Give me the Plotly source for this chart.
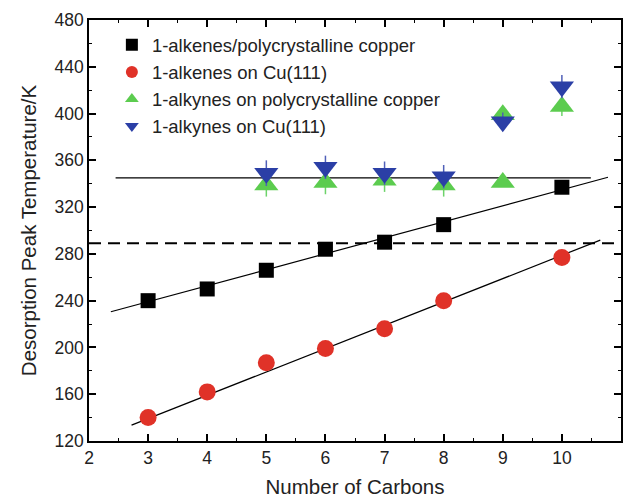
import plotly.graph_objects as go

# Data
carbons_alkenes = [3, 4, 5, 6, 7, 8, 10]
alkenes_poly = [240, 250, 266, 284, 290, 305, 337]
alkenes_cu111 = [140, 162, 187, 199, 216, 240, 277]

carbons_alkynes_poly = [5, 6, 7, 8, 9, 9, 10]
alkynes_poly = [339, 341, 343, 339, 341, 399, 406]
alkynes_poly_err = [10, 10, 10, 10, 0, 6, 8]

carbons_alkynes_cu = [5, 6, 7, 8, 9, 10]
alkynes_cu111 = [349, 354, 349, 346, 393, 423]
alkynes_cu_err = [11, 10, 10, 10, 8, 10]

fit_poly_x = [2.37, 10.78]
fit_poly_y = [230.5, 345.5]
fit_cu_x = [2.72, 10.65]
fit_cu_y = [133.6, 291.8]
flat_x = [2.45, 10.49]
flat_y = [345, 345]
dash_x = [2, 11]
dash_y = [289, 289]

FONT = "Liberation Sans, Arial, Helvetica, sans-serif"

fig = go.Figure()

fig.add_trace(go.Scatter(x=fit_poly_x, y=fit_poly_y, mode="lines",
                         line=dict(color="black", width=1.2), showlegend=False))
fig.add_trace(go.Scatter(x=fit_cu_x, y=fit_cu_y, mode="lines",
                         line=dict(color="black", width=1.2), showlegend=False))
fig.add_trace(go.Scatter(x=flat_x, y=flat_y, mode="lines",
                         line=dict(color="black", width=1.2), showlegend=False))
fig.add_trace(go.Scatter(x=dash_x, y=dash_y, mode="lines",
                         line=dict(color="black", width=2, dash="12px,7px"), showlegend=False))

fig.add_trace(go.Scatter(x=carbons_alkenes, y=alkenes_poly, mode="markers",
                         name="1-alkenes/polycrystalline copper",
                         marker=dict(symbol="square", size=15, color="black")))
fig.add_trace(go.Scatter(x=carbons_alkenes, y=alkenes_cu111, mode="markers",
                         name="1-alkenes on Cu(111)",
                         marker=dict(symbol="circle", size=17, color="#e03228")))
fig.add_trace(go.Scatter(x=carbons_alkynes_poly, y=alkynes_poly, mode="markers",
                         name="1-alkynes on polycrystalline copper",
                         error_y=dict(type="data", array=alkynes_poly_err, color="#6dd36a",
                                      thickness=1.5, width=0),
                         marker=dict(symbol="triangle-up", size=21, color="#5ccc4f")))
fig.add_trace(go.Scatter(x=carbons_alkynes_cu, y=alkynes_cu111, mode="markers",
                         name="1-alkynes on Cu(111)",
                         error_y=dict(type="data", array=alkynes_cu_err, color="#5060b8",
                                      thickness=1.5, width=0),
                         marker=dict(symbol="triangle-down", size=21, color="#2b3fa6")))

axis_common = dict(showline=True, linecolor="black", linewidth=1.5, mirror="ticks",
                   ticks="inside", ticklen=7, tickwidth=1.5, tickcolor="black",
                   showgrid=False, zeroline=False, automargin=False,
                   tickfont=dict(family=FONT, size=17.5, color="#222"))

fig.update_xaxes(range=[2, 11], dtick=1, tick0=2,
                 minor=dict(dtick=0.5, ticks="inside", ticklen=3, tickcolor="black", tickwidth=1),
                 title=dict(text="Number of Carbons", standoff=13,
                            font=dict(family=FONT, size=20.5, color="#222")),
                 **axis_common)
fig.update_yaxes(range=[120, 480], dtick=40, tick0=120,
                 minor=dict(dtick=20, ticks="inside", ticklen=3, tickcolor="black", tickwidth=1),
                 title=dict(text="Desorption Peak Temperature/K", standoff=12,
                            font=dict(family=FONT, size=20.5, color="#222")),
                 **axis_common)

fig.update_layout(
    width=629, height=498,
    margin=dict(l=89, r=8, t=20, b=57),
    plot_bgcolor="white", paper_bgcolor="white",
    legend=dict(x=0.043, y=0.985, xanchor="left", yanchor="top",
                bgcolor="rgba(0,0,0,0)", tracegroupgap=0, itemsizing="constant",
                font=dict(family=FONT, size=18.5, color="#222")),
)

fig.write_html("out.html", config={"displayModeBar": False},
               post_script="document.body.style.margin='0';document.body.style.overflow='hidden';")
